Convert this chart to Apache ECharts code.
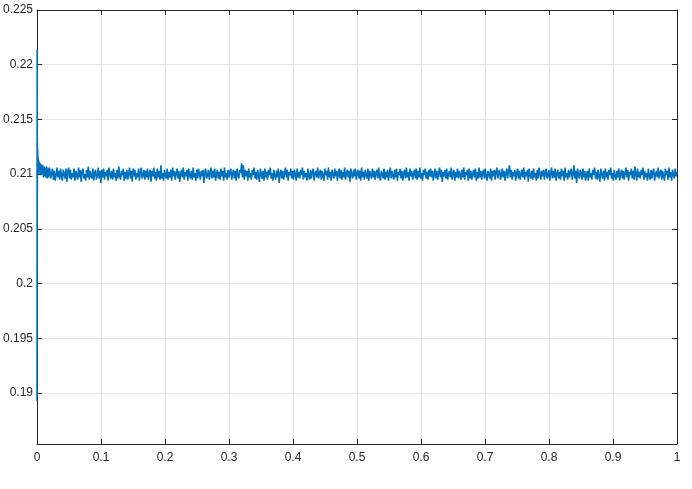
<!DOCTYPE html>
<html>
<head>
<meta charset="utf-8">
<script src="https://cdn.jsdelivr.net/npm/echarts@6/dist/echarts.min.js"></script>
<style>html,body{margin:0;padding:0;background:#fff;}#c{width:692px;height:489px;}</style>
</head>
<body>
<div id="c"></div>
<script>
// X ticks
const xTicks = [0, 0.1, 0.2, 0.3, 0.4, 0.5, 0.6, 0.7, 0.8, 0.9, 1];
// Y ticks
const yTicks = [0.19, 0.195, 0.2, 0.205, 0.21, 0.215, 0.22, 0.225];

// Start-up transient (time, value)
const startT = [0, 0.0002, 0.0004, 0.0006, 0.0008, 0.001, 0.0013, 0.0016, 0.002, 0.0025, 0.003, 0.0035, 0.004, 0.005, 0.006, 0.007, 0.008, 0.009, 0.010, 0.011, 0.012, 0.013, 0.014, 0.015, 0.016, 0.017, 0.018, 0.019];
const startY = [.1893, .2214, .2076, .2129, .2108, .2122, .2104, .2116, .2101, .2113, .2100, .2111, .2102, .2110, .2099, .2109, .2100, .2108, .2097, .2107, .2098, .2106, .2097, .2107, .2096, .2105, .2097, .2106];

// Steady-state samples from t0 with step dt
const steadyT0 = 0.02;
const steadyDt = 0.0014;
const steadyY = [
.2104,.2096,.2101,.2105,.2095,.2103,.2094,.2099,.2106,.2097,
.2103,.2095,.2105,.2098,.2094,.2104,.2100,.2096,.2105,.2093,
.2102,.2106,.2096,.2104,.2095,.2101,.2097,.2105,.2094,.2103,
.2099,.2095,.2106,.2097,.2104,.2093,.2102,.2105,.2096,.2100,
.2094,.2104,.2097,.2107,.2095,.2103,.2098,.2096,.2105,.2094,
.2101,.2104,.2095,.2099,.2106,.2096,.2103,.2092,.2104,.2097,
.2105,.2095,.2102,.2098,.2104,.2094,.2106,.2100,.2096,.2103,
.2095,.2105,.2097,.2101,.2094,.2104,.2096,.2107,.2098,.2095,
.2103,.2099,.2105,.2094,.2102,.2096,.2104,.2095,.2100,.2106,
.2096,.2103,.2093,.2105,.2098,.2104,.2095,.2101,.2097,.2105,
.2094,.2102,.2106,.2096,.2099,.2104,.2095,.2103,.2097,.2105,
.2095,.2100,.2104,.2093,.2103,.2098,.2106,.2096,.2102,.2094,
.2105,.2097,.2103,.2095,.2108,.2096,.2101,.2094,.2104,.2099,
.2096,.2105,.2095,.2102,.2097,.2104,.2094,.2106,.2098,.2103,
.2095,.2101,.2105,.2096,.2103,.2093,.2100,.2104,.2097,.2106,
.2095,.2102,.2098,.2104,.2094,.2105,.2099,.2096,.2103,.2095,
.2106,.2097,.2101,.2094,.2104,.2096,.2105,.2100,.2095,.2103,
.2098,.2104,.2092,.2102,.2105,.2096,.2099,.2104,.2095,.2101,
.2106,.2096,.2103,.2097,.2105,.2094,.2100,.2104,.2096,.2102,
.2095,.2105,.2098,.2103,.2094,.2106,.2097,.2101,.2095,.2104,
.2097,.2102,.2105,.2095,.2100,.2104,.2096,.2103,.2094,.2105,
.2099,.2096,.2104,.2101,.2110,.2097,.2108,.2095,.2104,.2098,
.2103,.2094,.2105,.2097,.2101,.2095,.2104,.2099,.2106,.2096,
.2102,.2095,.2104,.2098,.2093,.2105,.2100,.2096,.2103,.2094,
.2105,.2097,.2102,.2095,.2104,.2099,.2106,.2096,.2101,.2094,
.2104,.2098,.2095,.2103,.2097,.2105,.2092,.2100,.2104,.2096,
.2103,.2095,.2101,.2106,.2097,.2104,.2094,.2102,.2099,.2105,
.2096,.2103,.2095,.2104,.2100,.2094,.2105,.2097,.2102,.2096,
.2104,.2099,.2106,.2095,.2103,.2097,.2101,.2094,.2105,.2098,
.2095,.2104,.2096,.2102,.2105,.2094,.2100,.2103,.2097,.2106,
.2096,.2101,.2104,.2095,.2103,.2098,.2094,.2105,.2099,.2103,
.2095,.2106,.2097,.2102,.2094,.2104,.2100,.2096,.2105,.2098,
.2103,.2094,.2101,.2105,.2096,.2104,.2095,.2102,.2097,.2106,
.2095,.2100,.2104,.2097,.2103,.2093,.2105,.2099,.2096,.2104,
.2098,.2105,.2095,.2101,.2104,.2096,.2103,.2094,.2106,.2097,
.2102,.2095,.2104,.2099,.2096,.2105,.2094,.2103,.2100,.2096,
.2105,.2097,.2103,.2095,.2101,.2104,.2096,.2106,.2098,.2094,
.2103,.2100,.2096,.2105,.2095,.2102,.2097,.2104,.2094,.2101,
.2106,.2096,.2103,.2098,.2095,.2104,.2097,.2105,.2094,.2102,
.2099,.2105,.2096,.2103,.2094,.2101,.2104,.2096,.2106,.2097,
.2102,.2094,.2105,.2098,.2103,.2095,.2100,.2104,.2096,.2105,
.2095,.2103,.2097,.2106,.2096,.2101,.2094,.2104,.2099,.2105,
.2096,.2102,.2095,.2104,.2098,.2105,.2097,.2103,.2094,.2100,
.2105,.2096,.2103,.2095,.2101,.2106,.2097,.2104,.2093,.2102,
.2098,.2104,.2096,.2105,.2095,.2100,.2103,.2097,.2106,.2095,
.2101,.2104,.2094,.2102,.2097,.2105,.2096,.2103,.2099,.2095,
.2104,.2097,.2106,.2095,.2102,.2099,.2104,.2094,.2105,.2096,
.2103,.2095,.2100,.2104,.2097,.2105,.2094,.2102,.2096,.2106,
.2097,.2103,.2095,.2101,.2104,.2096,.2105,.2098,.2094,.2103,
.2100,.2096,.2105,.2094,.2103,.2098,.2104,.2095,.2102,.2106,
.2096,.2102,.2104,.2095,.2099,.2105,.2097,.2103,.2094,.2101,
.2105,.2096,.2103,.2108,.2097,.2104,.2095,.2102,.2098,.2104,
.2094,.2101,.2105,.2096,.2103,.2095,.2100,.2104,.2097,.2106,
.2095,.2102,.2098,.2104,.2093,.2105,.2099,.2096,.2103,.2095,
.2105,.2097,.2101,.2094,.2104,.2096,.2106,.2100,.2095,.2103,
.2098,.2104,.2095,.2102,.2105,.2096,.2099,.2104,.2094,.2101,
.2106,.2096,.2103,.2097,.2105,.2094,.2100,.2104,.2096,.2102,
.2095,.2105,.2098,.2103,.2094,.2106,.2097,.2101,.2095,.2104,
.2097,.2102,.2105,.2095,.2100,.2108,.2096,.2103,.2092,.2105,
.2099,.2096,.2104,.2101,.2095,.2105,.2097,.2103,.2094,.2100,
.2103,.2094,.2105,.2097,.2101,.2095,.2104,.2099,.2106,.2096,
.2102,.2095,.2104,.2098,.2093,.2105,.2100,.2096,.2103,.2094,
.2105,.2097,.2102,.2095,.2104,.2099,.2106,.2096,.2101,.2094,
.2104,.2098,.2095,.2103,.2097,.2105,.2094,.2100,.2104,.2096,
.2103,.2095,.2101,.2106,.2097,.2104,.2094,.2102,.2099,.2105,
.2096,.2103,.2095,.2107,.2100,.2094,.2105,.2097,.2102,.2096,
.2104,.2099,.2106,.2095,.2103,.2097,.2101,.2094,.2105,.2098,
.2095,.2104,.2096,.2102,.2105,.2094,.2100,.2103,.2097,.2106,
.2096,.2101,.2104,.2095,.2103,.2098,.2094,.2105,.2099,.2103,
.2095,.2106,.2097,.2102,.2094,.2104,.2100,.2096,.2105,.2098,
.2102
];

const data = [];
for (let i = 0; i < startT.length; i++) data.push([startT[i], startY[i]]);
for (let i = 0; i < steadyY.length; i++) data.push([+(steadyT0 + i * steadyDt).toFixed(5), steadyY[i]]);

const axisColor = '#262626';
const font = { fontFamily: 'Liberation Sans, Arial, sans-serif', fontSize: 12, color: axisColor };
const yMin = 0.18534, yMax = 0.225;

const chart = echarts.init(document.getElementById('c'), null, { renderer: 'canvas' });
chart.setOption({
  animation: false,
  backgroundColor: '#ffffff',
  grid: { left: 37, right: 15, top: 10, bottom: 45, containLabel: false },
  xAxis: [{
    type: 'value', min: xTicks[0], max: xTicks[xTicks.length - 1], interval: 0.1,
    axisLine: { show: true, onZero: false, lineStyle: { color: axisColor, width: 1 } },
    axisTick: { show: true, inside: true, length: 5, lineStyle: { color: axisColor } },
    axisLabel: Object.assign({ margin: 8, formatter: v => String(+v.toFixed(2)) }, font),
    splitLine: { show: true, lineStyle: { color: '#e3e3e3', width: 1 } }
  }, {
    type: 'value', position: 'top', min: xTicks[0], max: xTicks[xTicks.length - 1], interval: 0.1,
    axisLine: { show: true, onZero: false, lineStyle: { color: axisColor, width: 1 } },
    axisTick: { show: true, inside: true, length: 5, lineStyle: { color: axisColor } },
    axisLabel: { show: false }, splitLine: { show: false }
  }],
  yAxis: [{
    type: 'value', min: yMin, max: yMax, minInterval: 0.005, maxInterval: 0.005, splitNumber: 8,
    axisLine: { show: true, onZero: false, lineStyle: { color: axisColor, width: 1 } },
    axisTick: { show: true, inside: true, length: 5, lineStyle: { color: axisColor } },
    axisLabel: Object.assign({ margin: 4, showMinLabel: false,
      formatter: v => yTicks.some(t => Math.abs(t - v) < 1e-7) ? String(+v.toFixed(3)) : '' }, font),
    splitLine: { show: true, lineStyle: { color: '#e3e3e3', width: 1 } }
  }, {
    type: 'value', position: 'right', min: yMin, max: yMax, minInterval: 0.005, maxInterval: 0.005, splitNumber: 8,
    axisLine: { show: true, onZero: false, lineStyle: { color: axisColor, width: 1 } },
    axisTick: { show: true, inside: true, length: 5, lineStyle: { color: axisColor } },
    axisLabel: { show: false }, splitLine: { show: false }
  }],
  series: [{
    type: 'line', data: data, showSymbol: false, symbol: 'none', sampling: null,
    lineStyle: { color: '#0072BD', width: 1.6 }, z: 1
  }]
});
</script>
</body>
</html>
